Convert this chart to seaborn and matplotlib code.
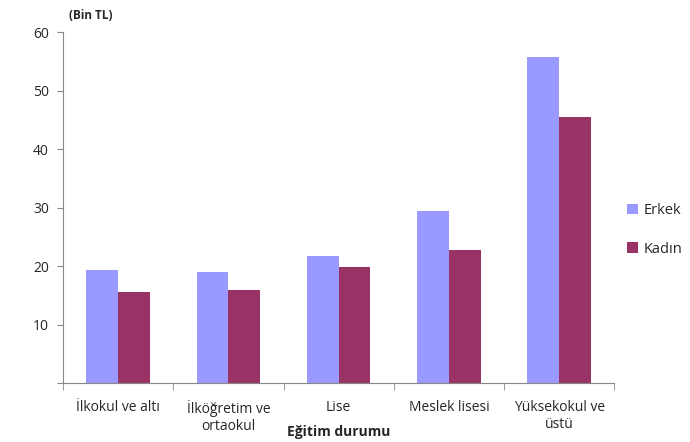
import matplotlib
matplotlib.use("Agg")
import matplotlib.pyplot as plt
import seaborn as sns
import pandas as pd
import numpy as np

categories = ["İlkokul ve altı", "İlköğretim ve\nortaokul", "Lise", "Meslek lisesi", "Yüksekokul ve\nüstü"]
erkek = [19.3, 19.0, 21.7, 29.4, 55.7]
kadin = [15.6, 15.9, 19.8, 22.7, 45.5]
series_names = ["Erkek", "Kadın"]
colors = ["#9999FF", "#993366"]

df = pd.DataFrame({
    "cat": categories * 2,
    "val": erkek + kadin,
    "sex": [series_names[0]] * len(categories) + [series_names[1]] * len(categories),
})

sns.set_style("white")
plt.rcParams['font.family'] = ['Open Sans', 'DejaVu Sans']

fig = plt.figure(figsize=(6.9, 4.42), dpi=100)
ax = fig.add_axes([0.0913, 0.1335, 0.799, 0.794])

sns.barplot(data=df, x="cat", y="val", hue="sex", palette=colors, width=0.575,
            saturation=1, ax=ax, legend=True, linewidth=0, edgecolor="none")

ax.set_ylim(0, 60)
ax.set_xlim(-0.5, len(categories) - 0.5)
ax.set_yticks(np.arange(0, 61, 10))
ax.set_yticklabels([""] + [str(v) for v in range(10, 61, 10)], fontsize=10)
ax.set_ylabel("")
ax.tick_params(axis="x", length=0, labelsize=10, pad=12)
ax.tick_params(axis="y", length=4, color="#888888", direction="out", pad=6, left=True)
ax.set_xticks(np.arange(-0.5, len(categories), 1), minor=True)
ax.tick_params(axis="x", which="minor", length=5, color="#888888", direction="out", bottom=True)
for lbl in ax.get_xticklabels():
    lbl.set_linespacing(1.25)

ax.set_xlabel("Eğitim durumu", fontsize=10, fontweight="bold", va="center")
ax.xaxis.set_label_coords(0.5, -0.14)

for s in ["top", "right"]:
    ax.spines[s].set_visible(False)
for s in ["left", "bottom"]:
    ax.spines[s].set_color("#888888")
    ax.spines[s].set_linewidth(0.8)

ax.text(0.01, 1.046, "(Bin TL)", transform=ax.transAxes, fontsize=8.5, fontweight="bold",
        ha="left", va="center")

leg = ax.legend(loc="center left", bbox_to_anchor=(1.0, 0.436), frameon=False, fontsize=10.5,
                handlelength=0.7, handleheight=0.7, labelspacing=1.6, handletextpad=0.4)

fig.savefig("out.png", dpi=100)
